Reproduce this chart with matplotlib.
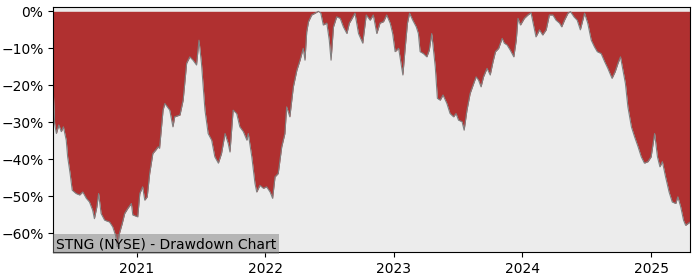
import matplotlib
matplotlib.use("Agg")
import matplotlib.pyplot as plt
import matplotlib.dates as mdates
import matplotlib.ticker as mticker
import pandas as pd

dates = [
    "2020-05-09", "2020-05-13", "2020-05-18", "2020-05-25", "2020-06-01", "2020-06-07",
    "2020-06-15", "2020-06-19", "2020-06-26", "2020-07-02", "2020-07-13", "2020-07-23",
    "2020-08-01", "2020-08-11", "2020-08-20", "2020-08-29", "2020-09-03", "2020-09-10",
    "2020-09-15", "2020-09-22", "2020-10-02", "2020-10-16", "2020-10-25", "2020-11-02",
    "2020-11-07", "2020-11-13", "2020-11-21", "2020-11-28", "2020-12-07", "2020-12-17",
    "2020-12-21",
    "2021-01-04", "2021-01-10", "2021-01-18", "2021-01-24", "2021-01-31", "2021-02-07",
    "2021-02-16", "2021-02-24", "2021-03-03", "2021-03-07", "2021-03-17", "2021-03-22",
    "2021-04-05", "2021-04-14", "2021-04-19", "2021-05-04", "2021-05-13", "2021-05-23",
    "2021-06-01", "2021-06-10", "2021-06-20", "2021-06-27", "2021-07-04", "2021-07-14",
    "2021-07-23", "2021-08-02", "2021-08-11", "2021-08-21", "2021-08-30", "2021-09-09",
    "2021-09-18", "2021-09-23", "2021-10-02", "2021-10-12", "2021-10-21", "2021-10-31",
    "2021-11-10", "2021-11-14", "2021-11-24", "2021-12-03", "2021-12-08", "2021-12-17",
    "2021-12-27",
    "2022-01-05", "2022-01-15", "2022-01-22", "2022-01-29", "2022-02-07", "2022-02-17",
    "2022-02-26", "2022-03-03", "2022-03-12", "2022-03-22", "2022-04-01", "2022-04-10",
    "2022-04-19", "2022-04-24", "2022-04-29", "2022-05-04", "2022-05-13", "2022-05-23",
    "2022-06-01", "2022-06-08", "2022-06-15", "2022-06-25", "2022-07-02", "2022-07-07",
    "2022-07-14", "2022-07-23", "2022-08-02", "2022-08-11", "2022-08-21", "2022-08-28",
    "2022-09-02", "2022-09-13", "2022-09-23", "2022-10-05", "2022-10-15", "2022-10-26",
    "2022-11-04", "2022-11-14", "2022-11-23", "2022-12-03", "2022-12-12", "2022-12-22",
    "2022-12-29",
    "2023-01-05", "2023-01-15", "2023-01-27", "2023-02-02", "2023-02-09", "2023-02-15",
    "2023-02-24", "2023-03-06", "2023-03-12", "2023-03-17", "2023-03-26", "2023-04-05",
    "2023-04-12", "2023-04-19", "2023-04-24", "2023-04-29", "2023-05-05", "2023-05-13",
    "2023-05-21", "2023-06-01", "2023-06-10", "2023-06-20", "2023-06-27", "2023-07-04",
    "2023-07-14", "2023-07-20", "2023-07-28", "2023-08-06", "2023-08-16", "2023-08-23",
    "2023-08-30", "2023-09-06", "2023-09-13", "2023-09-23", "2023-10-02", "2023-10-10",
    "2023-10-17", "2023-10-26", "2023-11-05", "2023-11-11", "2023-11-19", "2023-11-28",
    "2023-12-08", "2023-12-15", "2023-12-20", "2023-12-27",
    "2024-01-07", "2024-01-17", "2024-01-26", "2024-02-03", "2024-02-09", "2024-02-19",
    "2024-02-28", "2024-03-09", "2024-03-18", "2024-03-28", "2024-04-06", "2024-04-16",
    "2024-04-22", "2024-04-30", "2024-05-10", "2024-05-17", "2024-05-27", "2024-06-05",
    "2024-06-14", "2024-06-26", "2024-07-05", "2024-07-15", "2024-07-24", "2024-08-01",
    "2024-08-12", "2024-08-22", "2024-08-31", "2024-09-12", "2024-09-21", "2024-09-29",
    "2024-10-06", "2024-10-13", "2024-10-20", "2024-10-27", "2024-11-06", "2024-11-15",
    "2024-11-25", "2024-12-04", "2024-12-13", "2024-12-23",
    "2025-01-01", "2025-01-11", "2025-01-19", "2025-01-26", "2025-02-02", "2025-02-11",
    "2025-02-21", "2025-03-02", "2025-03-12", "2025-03-18", "2025-03-26", "2025-04-03",
    "2025-04-09", "2025-04-16", "2025-04-22",
]

drawdown_pct = [
    -21.0, -30.3, -33.0, -30.7, -32.5, -31.2,
    -34.8, -39.3, -43.8, -48.3, -49.2, -49.6,
    -48.8, -50.5, -51.5, -53.7, -56.0, -52.8,
    -49.2, -54.6, -56.4, -56.9, -58.2, -60.5,
    -63.6, -60.0, -57.3, -54.6, -53.2, -51.9,
    -55.0,
    -55.5, -49.2, -47.4, -51.0, -50.1, -43.8,
    -38.4, -37.5, -36.6, -37.0, -26.7, -24.9,
    -26.7, -31.2, -28.5, -28.0, -24.0, -14.0,
    -12.3, -13.2, -14.5, -7.8, -14.0, -26.7,
    -33.0, -34.8, -39.3, -41.0, -38.4, -33.0,
    -35.7, -38.0, -26.7, -27.6, -31.2, -32.5,
    -34.8, -33.0, -39.3, -46.5, -48.8, -47.0,
    -47.8,
    -47.4, -48.8, -50.5, -44.7, -43.8, -36.6,
    -33.0, -25.8, -28.5, -20.4, -15.9, -13.2,
    -10.0, -13.2, -5.5, -2.8, -1.0, -0.5,
    0.0, -0.5, -3.7, -3.2, -7.8, -13.2,
    -4.2, -1.5, -1.9, -4.2, -6.0, -3.2,
    -2.4, -0.5, -6.0, -8.6, -1.0, -2.4,
    -1.0, -6.0, -3.2, -2.8, -1.0, -3.2,
    -6.0,
    -10.9, -10.0, -17.2, -10.5, -3.2, -0.5,
    -2.4, -4.2, -6.0, -10.9, -11.4, -12.3,
    -10.5, -6.0, -10.5, -15.0, -23.5, -24.0,
    -22.6, -24.9, -27.6, -28.5, -27.6, -29.4,
    -29.8, -32.1, -26.7, -22.2, -19.5, -17.7,
    -18.6, -20.4, -17.7, -15.4, -17.2, -13.6,
    -10.9, -10.0, -7.3, -8.6, -9.1, -10.5,
    -12.3, -7.8, -1.9, -3.7,
    -1.9, -1.0, -0.4, -4.2, -6.9, -5.0,
    -6.4, -5.0, -1.0, -1.0, -2.4, -3.2,
    -4.2, -2.4, -0.5, -0.1, -1.5, -2.4,
    -5.0, -0.5, -3.2, -7.8, -9.6, -10.9,
    -11.4, -13.6, -15.4, -18.1, -16.3, -14.0,
    -12.3, -15.9, -19.5, -25.8, -31.2, -33.9,
    -36.6, -39.3, -41.0, -40.6,
    -39.3, -33.0, -39.3, -42.0, -40.6, -44.7,
    -48.8, -51.5, -51.9, -50.1, -52.8, -56.4,
    -57.8, -57.3, -56.9,
]

x = pd.to_datetime(dates)
y = [v / 100.0 for v in drawdown_pct]

fig = plt.figure(figsize=(7.0, 2.8), dpi=100)
ax = fig.add_axes([0.076, 0.1, 0.91, 0.875])
ax.set_facecolor("#ececec")

ax.fill_between(x, y, 0, color="#b03030", linewidth=0)
ax.plot(x, y, color="#808080", linewidth=0.8)

ax.set_xlim(x[0], x[-1])
ax.set_ylim(-0.650, 0.0116)
ax.yaxis.set_major_locator(mticker.MultipleLocator(0.1))
ax.yaxis.set_major_formatter(mticker.FuncFormatter(lambda v, p: f"{v*100:.0f}%".replace("-", "\u2212")))
ax.xaxis.set_major_locator(mdates.YearLocator())
ax.xaxis.set_major_formatter(mdates.DateFormatter("%Y"))
ax.tick_params(labelsize=10)

ax.text(0.004, 0.004, "STNG (NYSE) - Drawdown Chart", transform=ax.transAxes,
        fontsize=10, ha="left", va="bottom",
        bbox=dict(facecolor="grey", alpha=0.5, edgecolor="none", pad=2))

fig.savefig("out.png", dpi=100)
